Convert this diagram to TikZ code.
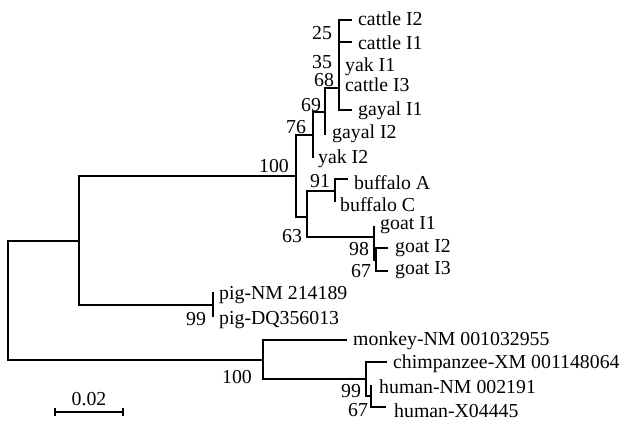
\documentclass[tikz,border=0pt]{standalone}
\usepackage{fontspec}
\setmainfont{Liberation Serif}
\begin{document}
\begin{tikzpicture}[x=1pt,y=-1pt,
  br/.style={draw=black,line width=1.1pt},
  leaf/.style={anchor=base west,inner sep=0pt,font=\fontsize{19.8pt}{22pt}\selectfont},
  boot/.style={anchor=base,inner sep=0pt,font=\fontsize{19.8pt}{22pt}\selectfont}]
\useasboundingbox (0,0) rectangle (623,420);
% internal nodes
\coordinate (R) at (8,300);
\coordinate (U) at (79,241);
\coordinate (B) at (296,176);
\coordinate (N76) at (313,135);
\coordinate (N69) at (325,112);
\coordinate (N68) at (339,88);
\coordinate (N63) at (307,217);
\coordinate (N91) at (335,191);
\coordinate (NG) at (374,237);
\coordinate (NG2) at (376,260);
\coordinate (P) at (213,305);
\coordinate (Pr) at (263,360);
\coordinate (C) at (366,379);
\coordinate (H) at (371,396);
% tips
\coordinate (cI2) at (352,20);
\coordinate (cI1) at (352,42);
\coordinate (gI1) at (352,110);
\coordinate (gI2) at (325,135);
\coordinate (yI2) at (313,158);
\coordinate (bA) at (348,179);
\coordinate (bC) at (335,202);
\coordinate (goI1) at (374,226);
\coordinate (goI2) at (388,248);
\coordinate (goI3) at (388,271);
\coordinate (pNM) at (213,292);
\coordinate (pDQ) at (213,317);
\coordinate (mk) at (347,340);
\coordinate (ch) at (387,362);
\coordinate (hNM) at (371,385);
\coordinate (hX) at (386,407);
\coordinate (s1) at (55,412);
\coordinate (s2) at (123,412);
% branches
\draw[br] (U) -| (R) |- (Pr);
\draw[br] (B) -| (U) |- (P);
\draw[br] (N76) -| (B) |- (N63);
\draw[br] (N69) -| (N76) |- (yI2);
\draw[br] (N68) -| (N69) |- (gI2);
\draw[br] (cI2) -| (N68) |- (gI1);
\draw[br] (N68 |- cI1) -- (cI1);
\draw[br] (N91) -| (N63) |- (NG);
\draw[br] (bA) -| (N91) |- (bC);
\draw[br] (goI1) -| (NG) |- (NG2);
\draw[br] (goI2) -| (NG2) |- (goI3);
\draw[br] (pNM) -| (P) |- (pDQ);
\draw[br] (mk) -| (Pr) |- (C);
\draw[br] (ch) -| (C) |- (H);
\draw[br] (hNM) -| (H) |- (hX);
% scale bar
\draw[br] (s1) -- (s2);
\draw[br] ([yshift=-4pt]s1) -- ([yshift=4pt]s1);
\draw[br] ([yshift=-4pt]s2) -- ([yshift=4pt]s2);
\node[boot] (sc) at (89,405) {0.02};
% leaf labels
\node[leaf] (tcI2) at (358,26) {cattle I2};
\node[leaf] (tcI1) at (358,49) {cattle I1};
\node[leaf] (tyI1) at (345,71) {yak I1};
\node[leaf] (tcI3) at (345,91) {cattle I3};
\node[leaf] (tgI1) at (358,115) {gayal I1};
\node[leaf] (tgI2) at (332,138) {gayal I2};
\node[leaf] (tyI2) at (318,163) {yak I2};
\node[leaf] (tbA) at (354,189) {buffalo A};
\node[leaf] (tbC) at (340,211) {buffalo C};
\node[leaf] (tgoI1) at (380,229) {goat I1};
\node[leaf] (tgoI2) at (395,252) {goat I2};
\node[leaf] (tgoI3) at (395,274) {goat I3};
\node[leaf] (tpNM) at (219,299) {pig-NM 214189};
\node[leaf] (tpDQ) at (219,324) {pig-DQ356013};
\node[leaf] (tmk) at (353,345) {monkey-NM 001032955};
\node[leaf] (tch) at (393,368) {chimpanzee-XM 001148064};
\node[leaf] (thNM) at (379,393) {human-NM 002191};
\node[leaf] (thX) at (394,417) {human-X04445};
% bootstrap values
\node[boot] (b25) at (322,39.5) {25};
\node[boot] (b35) at (322,68.5) {35};
\node[boot] (b68) at (324,86.5) {68};
\node[boot] (b69) at (311,111.5) {69};
\node[boot] (b76) at (296,133.5) {76};
\node[boot] (b100a) at (274,172) {100};
\node[boot] (b91) at (320,187.5) {91};
\node[boot] (b63) at (292,242) {63};
\node[boot] (b98) at (359,255) {98};
\node[boot] (b67a) at (361,277) {67};
\node[boot] (b99a) at (196,325) {99};
\node[boot] (b100b) at (237,383) {100};
\node[boot] (b99b) at (351,397.5) {99};
\node[boot] (b67b) at (358,416.5) {67};
\end{tikzpicture}
\end{document}
